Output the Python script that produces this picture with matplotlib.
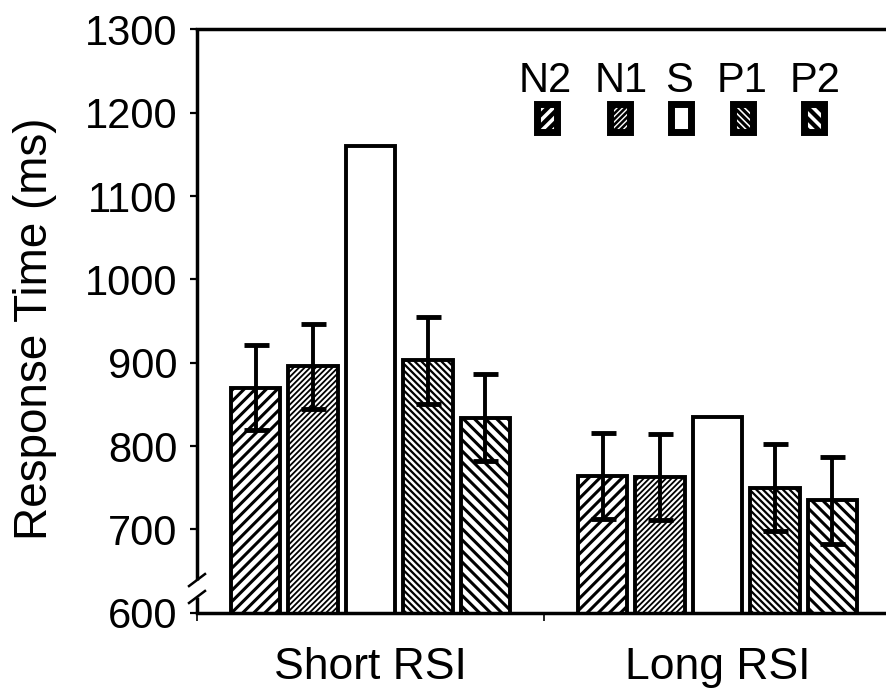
import matplotlib
matplotlib.use('Agg')
import matplotlib.pyplot as plt
import numpy as np
from matplotlib.patches import Rectangle

plt.rcParams['font.family'] = ['Liberation Sans', 'DejaVu Sans']

# ---- data ----
categories = ['Short RSI', 'Long RSI']
series = ['N2', 'N1', 'S', 'P1', 'P2']
n2_rt = [870, 764]
n1_rt = [896, 763]
s_rt = [1160, 835]
p1_rt = [903, 750]
p2_rt = [834, 735]
n2_err = [51, 52]
n1_err = [51, 52]
s_err = [0, 0]
p1_err = [52, 52]
p2_err = [52, 52]
yticks = [600, 700, 800, 900, 1000, 1100, 1200, 1300]

values = [n2_rt, n1_rt, s_rt, p1_rt, p2_rt]
errors = [n2_err, n1_err, s_err, p1_err, p2_err]
hatches = ['///', '//////', '', '\\\\\\\\\\', '\\\\\\']
hatch_lw = [2.2, 1.3, 1.0, 1.6, 2.2]
has_err = [True, True, False, True, True]

fig = plt.figure(figsize=(8.87, 6.9), dpi=100)
ax = fig.add_axes([0.2221, 0.1120, 0.7824, 0.8455])

x = np.arange(len(categories))
width = 0.144
step = 0.1657

for i, (name, vals, errs) in enumerate(zip(series, values, errors)):
    pos = x + (i - 2) * step
    bars = ax.bar(pos, vals, width=width, bottom=0, color='white',
                  edgecolor='black', linewidth=2.8, hatch=hatches[i], zorder=2)
    for b in bars:
        if hasattr(b, 'set_hatch_linewidth'):
            b.set_hatch_linewidth(hatch_lw[i])
    if has_err[i]:
        ax.errorbar(pos, vals, yerr=errs, fmt='none', ecolor='black',
                    elinewidth=2.8, capsize=9, capthick=3.5, zorder=3)

ax.set_ylim(600, 1300)
ax.set_xlim(-0.5, 1.5)
ax.set_yticks(yticks)
ax.set_yticklabels([str(t) for t in yticks])
ax.set_xticks(x)
ax.set_xticklabels(categories)
ax.set_xticks([-0.5, 0.5, 1.5], minor=True)
ax.tick_params(axis='y', direction='out', length=5, width=1.6, labelsize=30, pad=9)
ax.tick_params(axis='x', which='major', length=0, labelsize=32, pad=25)
ax.tick_params(axis='x', which='minor', length=6, width=1.2)

for s in ['top', 'right', 'bottom']:
    ax.spines[s].set_linewidth(2.5)
ax.spines['left'].set_visible(False)

# left spine with axis break
brk_hi, brk_lo = 0.056, 0.027
ax.plot([0, 0], [1, brk_hi], transform=ax.transAxes, color='black', lw=2.5,
        clip_on=False, solid_capstyle='butt', zorder=5)
ax.plot([0, 0], [brk_lo, 0], transform=ax.transAxes, color='black', lw=2.5,
        clip_on=False, solid_capstyle='butt', zorder=5)
dx, dy = 0.0115, 0.0103
for yc in (brk_hi, brk_lo):
    ax.plot([-dx, dx], [yc - dy, yc + dy], transform=ax.transAxes, color='black',
            lw=1.8, clip_on=False, zorder=5)

ax.set_ylabel('Response Time (ms)', fontsize=33)
ax.yaxis.set_label_coords(-0.202, 0.486)

# legend: labels above small hatched boxes
leg_x = [0.504, 0.609, 0.697, 0.787, 0.889]
lab_x = [0.502, 0.611, 0.694, 0.786, 0.891]
box_w, box_h = 0.0288, 0.048
box_y = 0.8488
for i, name in enumerate(series):
    r = Rectangle((leg_x[i] - box_w / 2, box_y - box_h / 2), box_w, box_h,
                  transform=ax.transAxes, facecolor='white', edgecolor='black',
                  linewidth=5, hatch=hatches[i], zorder=4)
    if hasattr(r, 'set_hatch_linewidth'):
        r.set_hatch_linewidth(hatch_lw[i] * 1.4)
    ax.add_patch(r)
    ax.text(lab_x[i], 0.8925, name, transform=ax.transAxes, ha='center',
            va='baseline', fontsize=30)

fig.savefig('out.png', dpi=100)
